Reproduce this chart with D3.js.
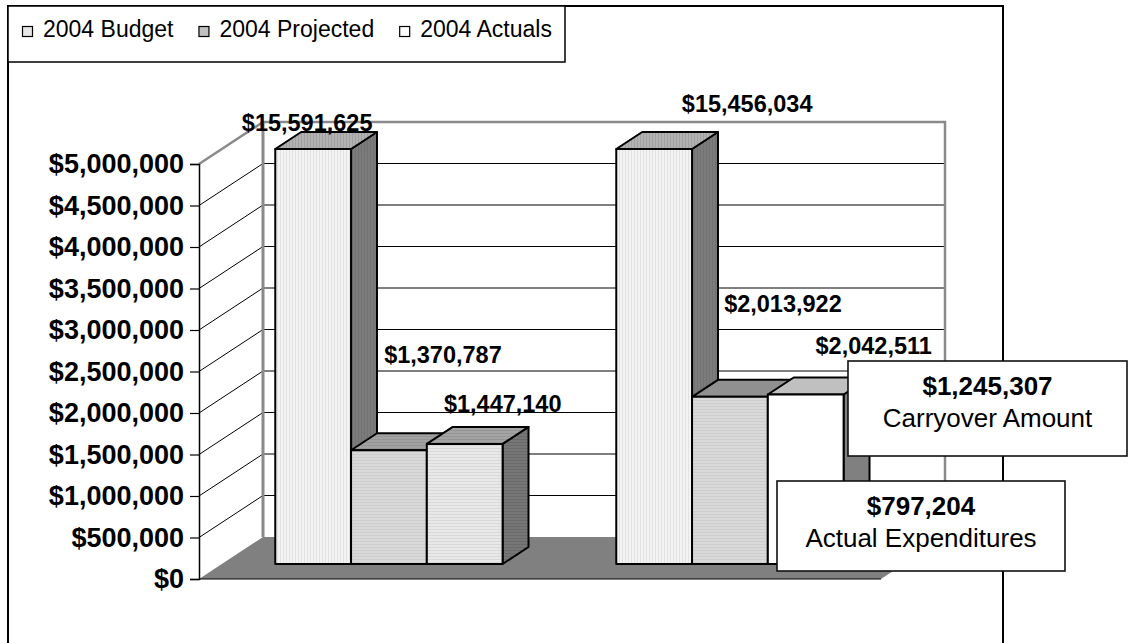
<!DOCTYPE html>
<html>
<head>
<meta charset="utf-8">
<script src="https://cdn.jsdelivr.net/npm/d3@7"></script>
<style>
  html, body { margin: 0; padding: 0; background: #fff; }
  svg { display: block; }
  text { font-family: "Liberation Sans", Arial, Helvetica, sans-serif; }
</style>
</head>
<body>
<script>
// ---- data ----
const categories = ["Fund A", "Fund B"];
const series = ["2004 Budget", "2004 Projected", "2004 Actuals"];
const budget = [15591625, 15456034];
const projected = [1370787, 2013922];
const actuals = [1447140, 2042511];
const yTicks = [0, 500000, 1000000, 1500000, 2000000, 2500000, 3000000, 3500000, 4000000, 4500000, 5000000];
const calloutValues = [1245307, 797204];
const calloutNames = ["Carryover Amount", "Actual Expenditures"];

// ---- layout ----
const W = 1129, H = 643;
const floorLeft = 199, floorRight = 881;
const DX = 64, DY = 42;          // depth of the 3-D floor
const dFront = 0.357, dBack = 0.762;  // bar depth band inside the floor
const fmt = d3.format("$,.0f");

const svg = d3.select("body").append("svg").attr("width", W).attr("height", H);

// stripe patterns for the bar faces
const defs = svg.append("defs");
function stripes(id, bg, line, vertical) {
  const p = defs.append("pattern").attr("id", id)
    .attr("patternUnits", "userSpaceOnUse").attr("width", 3).attr("height", 3);
  p.append("rect").attr("width", 3).attr("height", 3).attr("fill", bg);
  if (vertical) p.append("rect").attr("x", 1).attr("width", 1).attr("height", 3).attr("fill", line);
  else p.append("rect").attr("y", 1).attr("width", 3).attr("height", 1).attr("fill", line);
}
stripes("bFront", "#f3f3f3", "#e2e2e2", true);
stripes("bTop", "#b2b2b2", "#a0a0a0", true);
stripes("bSide", "#7c7c7c", "#727272", true);
stripes("pFront", "#d9d9d9", "#cdcdcd", false);
stripes("pTop", "#a2a2a2", "#959595", false);
stripes("pSide", "#727272", "#686868", false);
stripes("aFront", "#e8e8e8", "#d8d8d8", false);
stripes("aTop", "#a4a4a4", "#949494", false);
stripes("aSide", "#767676", "#6a6a6a", false);

const faceStyles = [
  [{front: "url(#bFront)", top: "url(#bTop)", side: "url(#bSide)"},
   {front: "url(#pFront)", top: "url(#pTop)", side: "url(#pSide)"},
   {front: "url(#aFront)", top: "url(#aTop)", side: "url(#aSide)"}],
  [{front: "url(#bFront)", top: "url(#bTop)", side: "url(#bSide)"},
   {front: "url(#pFront)", top: "#909090", side: "url(#pSide)"},
   {front: "#ffffff", top: "#c0c0c0", side: "#808080"}]
];
const legendFills = ["#e6e6e6", "#c0c0c0", "#ffffff"];

// ---- scales ----
const y = d3.scaleLinear().domain([0, 5000000]).range([579, 164]).clamp(true);
const x0 = d3.scaleBand().domain(categories).range([floorLeft, floorRight]);
const x1 = d3.scaleBand().domain(series).range([0, x0.bandwidth()]).paddingOuter(0.75).align(0.47);
const P = (x, v, d) => [x + d * DX, y(v) - d * DY];

// ---- outer frame and legend ----
svg.append("rect").attr("x", 8).attr("y", 6).attr("width", 995).attr("height", 660)
  .attr("fill", "#fff").attr("stroke", "#000").attr("stroke-width", 2);
svg.append("rect").attr("x", 8).attr("y", 6).attr("width", 557).attr("height", 56)
  .attr("fill", "#fff").attr("stroke", "#000").attr("stroke-width", 1.5);
let lx = 22;
series.forEach((s, i) => {
  svg.append("rect").attr("x", lx + 0.5).attr("y", 26.5).attr("width", 10).attr("height", 10)
    .attr("fill", legendFills[i]).attr("stroke", "#000").attr("stroke-width", 1.2);
  const t = svg.append("text").attr("x", lx + 21).attr("y", 37)
    .attr("font-size", 23).attr("fill", "#000").text(s);
  lx += 21 + t.node().getComputedTextLength() + 25;
});

// ---- walls ----
const y0 = y(0), yTop = y(5000000);
// side wall
svg.append("polygon")
  .attr("points", [[floorLeft, y0], [floorLeft + DX, y0 - DY], [floorLeft + DX, yTop - DY], [floorLeft, yTop]].join(" "))
  .attr("fill", "#fff");
// gridlines on the side wall and back wall
yTicks.filter(t => t > 0 && t < 5000000).forEach(t => {
  svg.append("line").attr("x1", floorLeft).attr("y1", y(t)).attr("x2", floorLeft + DX).attr("y2", y(t) - DY)
    .attr("stroke", "#000").attr("stroke-width", 1);
  svg.append("line").attr("x1", floorLeft + DX).attr("y1", y(t) - DY).attr("x2", floorRight + DX).attr("y2", y(t) - DY)
    .attr("stroke", "#000").attr("stroke-width", 1.2);
});
// wall edges
svg.append("path")
  .attr("d", `M${floorLeft},${yTop}L${floorLeft + DX},${yTop - DY}L${floorRight + DX},${yTop - DY}L${floorRight + DX},${y0 - DY}`)
  .attr("fill", "none").attr("stroke", "#8a8a8a").attr("stroke-width", 2.5);
svg.append("line").attr("x1", floorLeft + DX).attr("y1", yTop - DY).attr("x2", floorLeft + DX).attr("y2", y0 - DY)
  .attr("stroke", "#8a8a8a").attr("stroke-width", 3);
// floor
svg.append("polygon")
  .attr("points", [[floorLeft, y0], [floorLeft + DX, y0 - DY], [floorRight + DX, y0 - DY], [floorRight, y0]].join(" "))
  .attr("fill", "#808080");
svg.append("line").attr("x1", floorLeft).attr("y1", y0).attr("x2", floorRight).attr("y2", y0)
  .attr("stroke", "#000").attr("stroke-width", 1.2);

// ---- value axis ----
const axis = svg.append("g").attr("transform", `translate(${floorLeft},0)`)
  .call(d3.axisLeft(y).tickValues(yTicks).tickFormat(fmt).tickSize(9).tickPadding(6));
axis.select(".domain").attr("stroke", "#000").attr("stroke-width", 1.5);
axis.selectAll(".tick line").attr("stroke", "#000").attr("stroke-width", 1.2);
axis.selectAll(".tick text").attr("font-size", 27).attr("font-weight", "bold").attr("fill", "#000")
  .attr("font-family", "'Liberation Sans', Arial, sans-serif");

// ---- bars ----
const rows = categories.map((c, ci) => [budget[ci], projected[ci], actuals[ci]]);
const labelNudge = [
  [[-6, -18], [54, -87], [38, -32]],
  [[93, -37], [53, -85], [68, -40]]
];
const barLayer = svg.append("g");
const labelLayer = svg.append("g");
categories.forEach((c, ci) => {
  series.forEach((s, si) => {
    const v = rows[ci][si];
    const xl = x0(c) + x1(s), xr = xl + x1.bandwidth();
    const st = faceStyles[ci][si];
    const g = barLayer.append("g").attr("stroke", "#000").attr("stroke-width", 2).attr("stroke-linejoin", "round");
    g.append("polygon").attr("fill", st.side)
      .attr("points", [P(xr, 0, dFront), P(xr, 0, dBack), P(xr, v, dBack), P(xr, v, dFront)].join(" "));
    g.append("polygon").attr("fill", st.top)
      .attr("points", [P(xl, v, dFront), P(xr, v, dFront), P(xr, v, dBack), P(xl, v, dBack)].join(" "));
    g.append("polygon").attr("fill", st.front)
      .attr("points", [P(xl, 0, dFront), P(xr, 0, dFront), P(xr, v, dFront), P(xl, v, dFront)].join(" "));
    const [tx, ty] = P((xl + xr) / 2, v, dFront);
    const n = labelNudge[ci][si];
    labelLayer.append("text").attr("x", tx + n[0]).attr("y", ty + n[1])
      .attr("text-anchor", "middle").attr("font-size", 23.5).attr("font-weight", "bold")
      .attr("fill", "#000").text(fmt(v));
  });
});
labelLayer.raise();

// ---- callout boxes ----
const boxes = [
  {x: 848, y: 361, w: 279, h: 95},
  {x: 777, y: 481, w: 288, h: 90}
];
boxes.forEach((b, i) => {
  const g = svg.append("g");
  g.append("rect").attr("x", b.x).attr("y", b.y).attr("width", b.w).attr("height", b.h)
    .attr("fill", "#fff").attr("stroke", "#111").attr("stroke-width", 1.6);
  g.append("text").attr("x", b.x + b.w / 2).attr("y", b.y + 34).attr("text-anchor", "middle")
    .attr("font-size", 26).attr("font-weight", "bold").attr("fill", "#000").text(fmt(calloutValues[i]));
  g.append("text").attr("x", b.x + b.w / 2).attr("y", b.y + 66).attr("text-anchor", "middle")
    .attr("font-size", 26).attr("fill", "#000").text(calloutNames[i]);
});
</script>
</body>
</html>
